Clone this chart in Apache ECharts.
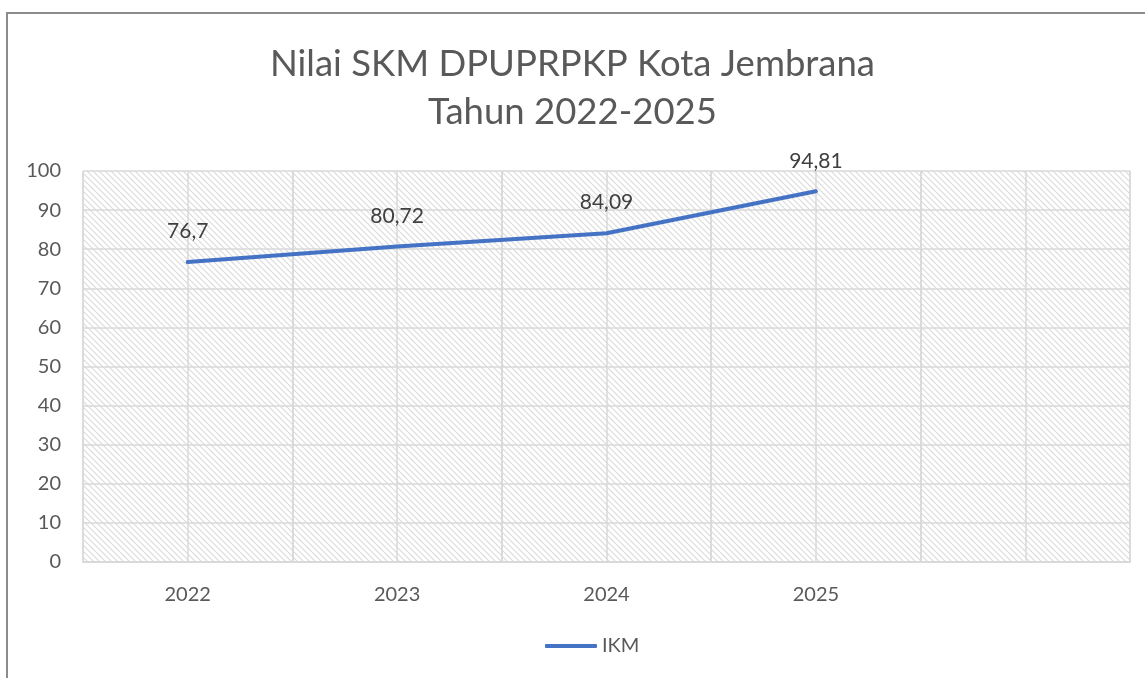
<!DOCTYPE html>
<html>
<head>
<meta charset="utf-8">
<script src="https://cdn.jsdelivr.net/npm/echarts@6/dist/echarts.min.js"></script>
<style>
  html, body { margin: 0; padding: 0; background: #fff; }
  #chart { width: 1145px; height: 678px; }
</style>
</head>
<body>
<div id="chart"></div>
<script>
var years = ['2022', '2023', '2024', '2025', ''];
var ikm = [76.7, 80.72, 84.09, 94.81];
var yTicks = [0, 10, 20, 30, 40, 50, 60, 70, 80, 90, 100];

// diagonal hatch for the plot background
var hatch = document.createElement('canvas');
hatch.width = 6;
hatch.height = 6;
var hc = hatch.getContext('2d');
hc.fillStyle = '#ffffff';
hc.fillRect(0, 0, 6, 6);
hc.strokeStyle = '#dadada';
hc.lineWidth = 1.1;
hc.beginPath();
hc.moveTo(-1, -1); hc.lineTo(7, 7);
hc.moveTo(-4, 2); hc.lineTo(4, 10);
hc.moveTo(2, -4); hc.lineTo(10, 4);
hc.stroke();

var myChart = echarts.init(document.getElementById('chart'));

var option = {
    animation: false,
    title: {
        text: 'Nilai SKM DPUPRPKP Kota Jembrana\nTahun 2022-2025',
        left: 'center',
        top: 35,
        textStyle: {
            fontFamily: 'Lato',
            fontWeight: 'normal',
            fontSize: 36.5,
            lineHeight: 48,
            color: '#595959'
        }
    },
    graphic: [{
        type: 'rect',
        shape: { x: 7, y: 13, width: 1150, height: 700 },
        style: { fill: 'none', stroke: '#8c8c8c', lineWidth: 2 },
        silent: true
    }],
    legend: {
        bottom: 17,
        left: 540,
        itemWidth: 52,
        itemHeight: 4,
        itemGap: 6,
        icon: 'roundRect',
        textStyle: { fontFamily: 'Lato', fontSize: 20, color: '#595959' },
        data: ['IKM']
    },
    grid: {
        left: 83,
        right: 15,
        top: 171,
        bottom: 116,
        show: true,
        borderWidth: 0,
        backgroundColor: { image: hatch, repeat: 'repeat' }
    },
    xAxis: [{
        type: 'category',
        data: years,
        boundaryGap: true,
        axisLine: { show: true, lineStyle: { color: '#d9d9d9', width: 2 } },
        axisTick: { show: false },
        axisLabel: { margin: 23, fontFamily: 'Lato', fontSize: 20, color: '#595959' },
        splitLine: { show: true, lineStyle: { color: '#d9d9d9', width: 1.5 } }
    }, {
        // hidden helper axis: adds the mid-column grid lines
        type: 'value',
        min: 0,
        max: 10,
        interval: 1,
        position: 'bottom',
        axisLine: { show: false },
        axisTick: { show: false },
        axisLabel: { show: false },
        splitLine: { show: true, lineStyle: { color: '#d9d9d9', width: 1.5 } }
    }],
    yAxis: {
        type: 'value',
        min: yTicks[0],
        max: yTicks[yTicks.length - 1],
        interval: 10,
        axisLine: { show: false },
        axisTick: { show: false },
        axisLabel: { margin: 22, fontFamily: 'Lato', fontSize: 20, color: '#595959' },
        splitLine: { show: true, lineStyle: { color: '#d9d9d9', width: 1.5 } }
    },
    series: [{
        name: 'IKM',
        type: 'line',
        data: ikm,
        symbol: 'circle',
        symbolSize: 0,
        lineStyle: { color: '#4472C4', width: 4, cap: 'round' },
        itemStyle: { color: '#4472C4' },
        label: {
            show: true,
            position: 'top',
            distance: 20,
            fontFamily: 'Lato',
            fontSize: 21,
            color: '#404040',
            formatter: function (p) { return String(p.value).replace('.', ','); }
        }
    }]
};

myChart.setOption(option);
</script>
</body>
</html>
